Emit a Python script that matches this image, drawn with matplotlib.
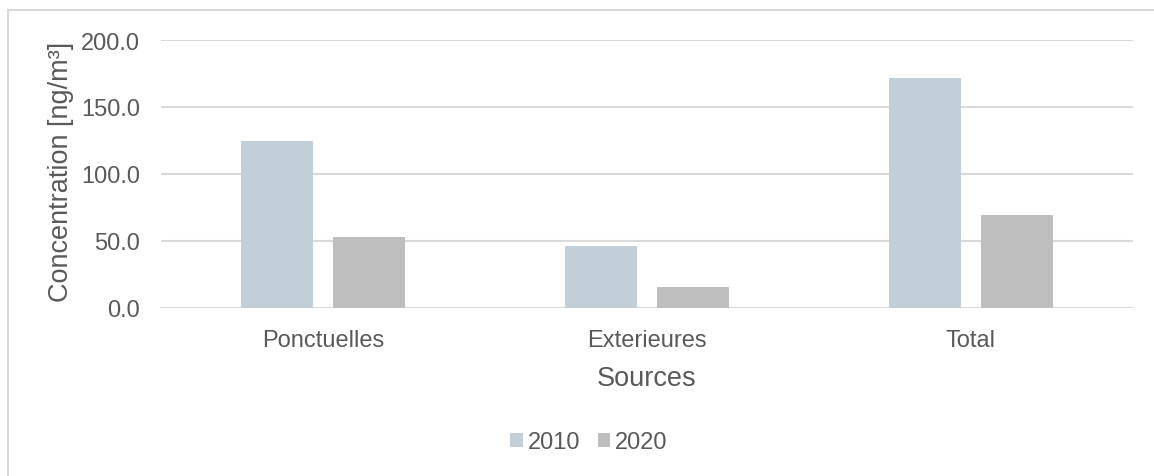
import matplotlib
matplotlib.use("Agg")
import matplotlib.pyplot as plt
import numpy as np
from matplotlib.patches import Rectangle

plt.rcParams['font.family'] = ['Liberation Sans', 'DejaVu Sans']

categories = ["Ponctuelles", "Exterieures", "Total"]
series_names = ["2010", "2020"]
values_2010 = [125.0, 46.0, 171.4]
values_2020 = [53.0, 16.0, 69.4]
y_ticks = [0, 50, 100, 150, 200]

colors = ["#C2CFD8", "#BEBEBE"]
text_color = "#595959"
grid_color = "#D9D9D9"

W, H = 1154, 477
fig = plt.figure(figsize=(W / 100, H / 100), dpi=100)

# outer chart frame (left and top edges visible)
fig.add_artist(Rectangle((8 / W, -0.1), 1.2, 1 - 11 / H + 0.1,
                         transform=fig.transFigure, fill=False,
                         edgecolor=grid_color, linewidth=1.5))

left, right = 161 / W, 1133 / W
bottom, top = 1 - 309 / H, 1 - 41 / H
ax = fig.add_axes([left, bottom, right - left, top - bottom])

x = np.arange(len(categories))
width = 0.222
offset = 0.142
ax.bar(x - offset, values_2010, width, color=colors[0], label=series_names[0], zorder=3)
ax.bar(x + offset, values_2020, width, color=colors[1], label=series_names[1], zorder=3)

ax.set_xlim(-0.5, len(categories) - 0.5)
ax.set_ylim(0, 200)
ax.set_yticks(y_ticks)
ax.set_yticklabels([f"{v:.1f}" for v in y_ticks])
ax.set_xticks(x)
ax.set_xticklabels(categories)

ax.grid(axis='y', color=grid_color, linewidth=1.5, zorder=0)
ax.set_axisbelow(True)
for s in ax.spines.values():
    s.set_visible(False)
ax.tick_params(axis='both', length=0, colors=text_color, labelsize=17)
ax.tick_params(axis='y', pad=15)
ax.tick_params(axis='x', pad=15)

ax.set_xlabel("Sources", color=text_color, fontsize=19.5, labelpad=10)
ax.set_ylabel("Concentration [ng/m³]", color=text_color, fontsize=19.5)
ax.yaxis.set_label_coords((74 - 161) / 972, 0.51)

leg = fig.legend(loc='center', bbox_to_anchor=(589 / W, 1 - 443 / H), ncol=2,
                 frameon=False, fontsize=17, handlelength=0.55, handleheight=0.55,
                 handletextpad=0.2, columnspacing=0.72)
for t in leg.get_texts():
    t.set_color(text_color)

fig.savefig("out.png", dpi=100)
